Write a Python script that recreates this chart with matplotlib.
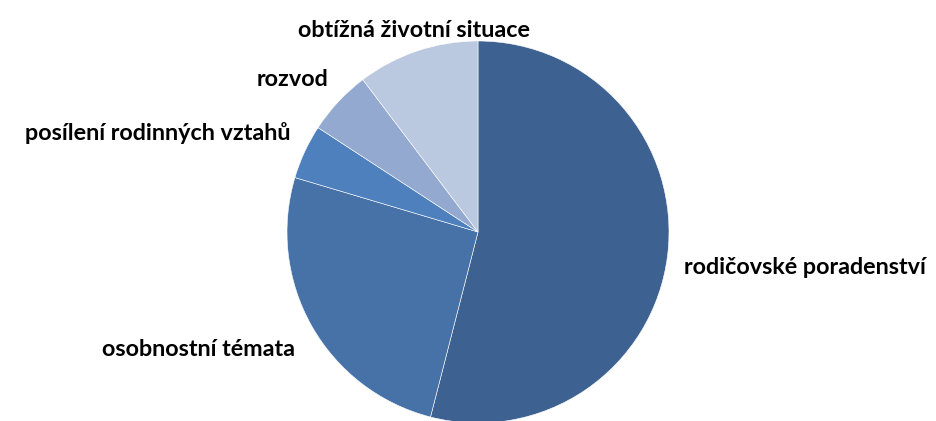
import matplotlib
matplotlib.use("Agg")
import matplotlib.pyplot as plt

# Podíly jednotlivých témat (odhad z obrázku, v %)
temata = ["rodičovské poradenství", "osobnostní témata", "posílení rodinných vztahů",
          "rozvod", "obtížná životní situace"]
podily = [54.0, 25.6, 4.6, 5.5, 10.3]
barvy = ["#3d6190", "#4672a7", "#4d80bd", "#94a9cf", "#bac8e0"]

W, H = 936, 421
cx, cy, r = 478, 232, 191

fig = plt.figure(figsize=(W / 100, H / 100), dpi=100)
ax = fig.add_axes([(cx - r) / W, (H - cy - r) / H, 2 * r / W, 2 * r / H])

ax.pie(podily, colors=barvy, startangle=90, counterclock=False, radius=1,
       wedgeprops=dict(edgecolor="white", linewidth=0.4))
ax.set_xlim(-1, 1)
ax.set_ylim(-1, 1)
ax.axis("off")

# pozice popisků v pixelech (střed textu)
popisky_px = [(805, 267), (199, 350), (158, 133), (293, 80), (414, 30)]
for t, (px, py) in zip(temata, popisky_px):
    ax.text((px - cx) / r, (cy - py) / r, t, ha="center", va="center",
            fontsize=16.8, fontweight="bold", family=["Lato", "DejaVu Sans"],
            color="black", clip_on=False)

fig.savefig("out.png", dpi=100)
